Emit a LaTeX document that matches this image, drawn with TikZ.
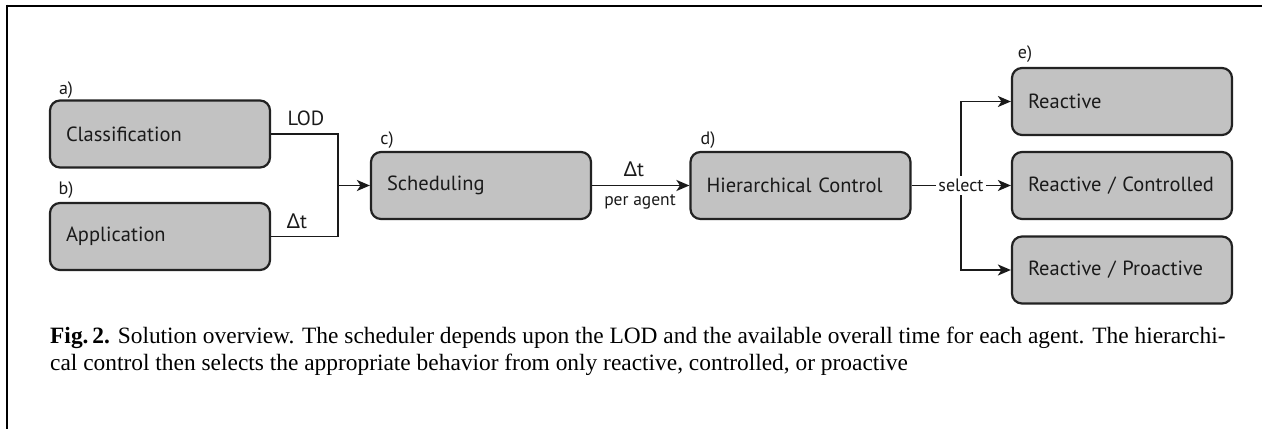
\documentclass[tikz,border=0pt]{standalone}
\usepackage{fontspec}
\setmainfont{Liberation Serif}
\newfontfamily\diag{PT Sans}
\newfontfamily\gk{Noto Sans}
\usetikzlibrary{arrows.meta}
\definecolor{boxfill}{HTML}{C2C2C2}
\definecolor{boxline}{HTML}{222222}
\definecolor{inkline}{HTML}{1A1A1A}
\newcommand{\dt}{{\gk\char"0394}t}
\begin{document}
\begin{tikzpicture}[x=1pt,y=-1pt,
  blk/.style={draw=boxline, fill=boxfill, line width=2.2pt, rounded corners=10pt,
    minimum width=220pt, minimum height=67pt, inner ysep=0pt, inner xsep=16pt,
    text width=188pt, align=left,
    font=\diag\fontsize{20.5}{24}\selectfont, text=inkline},
  lbl/.style={font=\diag\fontsize{18}{21}\selectfont, inner sep=0pt, text=inkline},
  tag/.style={font=\diag\fontsize{20.5}{24}\selectfont, inner sep=0pt, text=inkline},
  small/.style={font=\diag\fontsize{17.5}{20}\selectfont, inner sep=0pt, text=inkline},
  conn/.style={draw=inkline, line width=1.8pt},
  arr/.style={conn, -{Stealth[length=13pt, width=11pt, inset=3.5pt]}}
]
\useasboundingbox (0,0) rectangle (1269,429);
% frame
\draw[line width=2.8pt] (6,6) -- (1262,6);
\draw[line width=2.8pt] (7,4.6) -- (7,429);

% boxes
\node[blk] (A) at (160,134) {\mbox{Classification}};
\node[blk] (B) at (160,236.5) {\mbox{Application}};
\node[blk] (C) at (481,185.5) {\mbox{Scheduling}};
\node[blk] (D) at (800.5,185.5) {\mbox{Hierarchical Control}};
\node[blk] (E1) at (1122,101.5) {\mbox{Reactive}};
\node[blk] (E2) at (1122,185.5) {\mbox{Reactive / Controlled}};
\node[blk] (E3) at (1122,270) {\mbox{Reactive / Proactive}};

% letters
\node[lbl] (la) at (66,90) {a)};
\node[lbl] (lb) at (66,190) {b)};
\node[lbl] (lc) at (387,140) {c)};
\node[lbl] (ld) at (708,140) {d)};
\node[lbl] (le) at (1025,54) {e)};

% connectors
\coordinate (j1) at (338,185.5);
\coordinate (j2) at (961,185.5);
\draw[conn] (A.east) -| (j1);
\draw[conn] (B.east) -| (j1);
\draw[arr] (j1) -- (C.west);
\draw[arr] (C.east) -- (D.west);
\draw[arr] (D.east) -- (E2.west);
\draw[arr] (j2) |- (E1.west);
\draw[arr] (j2) |- (E3.west);
\node[lbl, fill=white, inner xsep=2pt, inner ysep=3pt] (sel) at (j2) {select};

% connector labels
\node[tag] (lod) at (306,118) {LOD};
\node[tag] (dt1) at (297,221) {\dt};
\node[tag] (dt2) at (634,169) {\dt};
\node[small] (pa) at (640,202) {per agent};

% caption
\node[anchor=base west, align=left, inner sep=0pt,
  font=\fontsize{23.4}{26.5}\selectfont] (cap) at (50,370)
  {\textbf{Fig.\,2.} Solution overview. The scheduler depends upon the LOD and the available overall time for each agent. The hierarchi-\\
   cal control then selects the appropriate behavior from only reactive, controlled, or proactive};
\end{tikzpicture}
\end{document}
